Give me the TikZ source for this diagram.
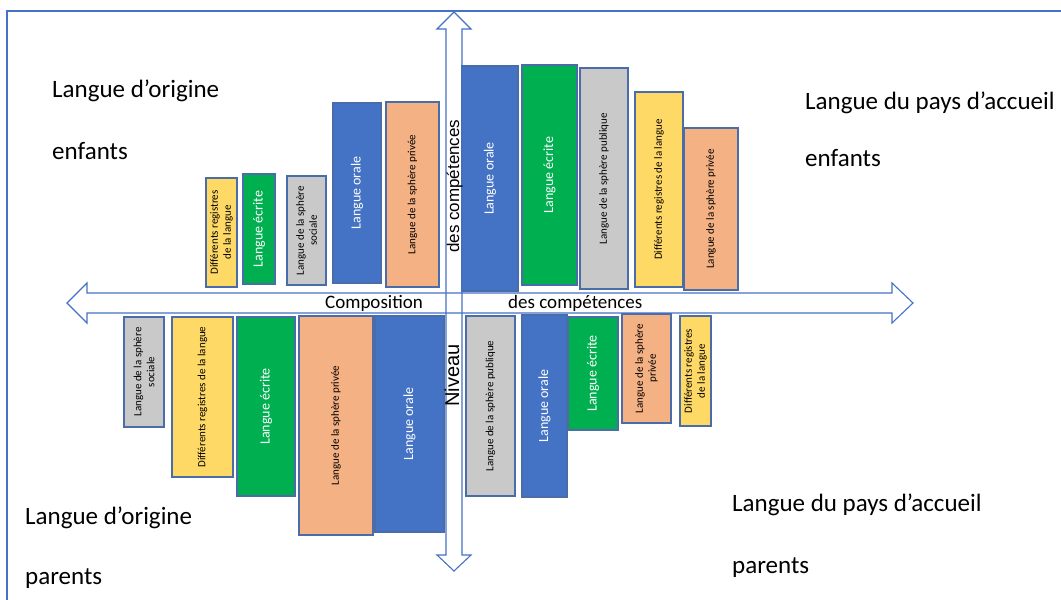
\documentclass[tikz,border=0pt]{standalone}
\usepackage{fontspec}
\setmainfont{Carlito}
\newfontfamily\axefont{Liberation Sans}
\usetikzlibrary{positioning}

\definecolor{cadre}{HTML}{4472C4}
\definecolor{barline}{HTML}{4A6CA8}
\definecolor{bleu}{HTML}{4472C4}
\definecolor{vert}{HTML}{00B050}
\definecolor{gris}{HTML}{C9C9C9}
\definecolor{jaune}{HTML}{FFD966}
\definecolor{saumon}{HTML}{F4B183}

\begin{document}
\begin{tikzpicture}[x=1pt, y=-1pt,
  bar/.style={draw=barline, line width=1.1pt, rotate=90, inner sep=1pt, align=center, text=black, font=\fontsize{11}{13}\selectfont},
  dims/.style 2 args={minimum height=#1pt, minimum width=#2pt},
  orale/.style={bar, fill=bleu, text=white, font=\fontsize{14}{16}\selectfont},
  ecrite/.style={bar, fill=vert, text=white, font=\fontsize{14}{16}\selectfont},
  sphere/.style={bar, fill=gris},
  registres/.style={bar, fill=jaune},
  privee/.style={bar, fill=saumon},
  groupe/.style={anchor=base west, inner sep=0pt, font=\fontsize{25}{30}\selectfont},
  axe/.style={draw=cadre, line width=1.1pt},
  axetexte/.style={inner sep=0pt, anchor=base west, font=\fontsize{19}{22}\selectfont},
  axevert/.style={inner sep=0pt, anchor=base west, rotate=90, font=\axefont\fontsize{#1}{22}\selectfont}]
  \useasboundingbox (0,0) rectangle (1061,600);
  \draw[cadre, line width=2pt] (7,600) -- (7,11) -- (1061,11);

  \node[registres, dims={31}{109}] (eo_registres) at (221.5,232.5) {Différents registres\\de la langue};
  \node[ecrite, dims={32}{110}] (eo_ecrite) at (259,229) {Langue écrite};
  \node[sphere, dims={39}{109}] (eo_sociale) at (306.5,230.5) {Langue de la sphère\\sociale};
  \node[orale, dims={48}{180}] (eo_orale) at (357,193) {Langue orale};
  \node[privee, dims={53}{185}] (eo_privee) at (412.5,194.5) {Langue de la sphère privée};

  \node[orale, dims={56}{225}] (ea_orale) at (490,178.5) {Langue orale};
  \node[ecrite, dims={55}{220}] (ea_ecrite) at (549.5,175) {Langue écrite};
  \node[sphere, dims={48}{221}] (ea_publique) at (604,178.5) {Langue de la sphère publique};
  \node[registres, dims={48}{195}] (ea_registres) at (659,189.5) {Différents registres de la langue};
  \node[privee, dims={54}{162}] (ea_privee) at (711,209) {Langue de la sphère privée};

  \node[sphere, dims={40}{110}] (po_sociale) at (144,372) {Langue de la sphère\\sociale};
  \node[registres, dims={61}{160}] (po_registres) at (202.5,397) {Différents registres de la langue};
  \node[ecrite, dims={58}{179}] (po_ecrite) at (266,406.5) {Langue écrite};
  \node[privee, dims={74}{219}] (po_privee) at (336,425.5) {Langue de la sphère privée};
  \node[orale, dims={69}{216}] (po_orale) at (409.5,424) {Langue orale};

  \node[sphere, dims={49}{180}] (pa_publique) at (490.5,406) {Langue de la sphère publique};
  \node[orale, dims={45}{182}] (pa_orale) at (544.5,406) {Langue orale};
  \node[ecrite, dims={50}{113}] (pa_ecrite) at (593,373.5) {Langue écrite};
  \node[privee, dims={49}{109}] (pa_privee) at (646.5,368.5) {Langue de la sphère\\privée};
  \node[registres, dims={31}{110}] (pa_registres) at (695.5,371) {Différents registres\\de la langue};

  \draw[axe] (67,303) -- (87,283) -- (87,293) -- (892,293) -- (892,283) -- (913,303)
    -- (892,323) -- (892,313) -- (87,313) -- (87,323) -- cycle;
  \draw[axe] (454,12) -- (471,29) -- (462,29) -- (462,555) -- (471,555) -- (454,571)
    -- (437,555) -- (446,555) -- (446,29) -- (437,29) -- cycle;

  \node[axetexte] (composition) at (325,308) {Composition};
  \node[axetexte] (competences) at (508,308) {des compétences};
  \node[axevert=17] (niv_competences) at (459,253) {des compétences};
  \node[axevert=20] (niveau) at (459,407) {Niveau};

  \node[groupe] (orig_enf) at (52,97) {Langue d’origine};
  \node[groupe] (orig_enf2) [below=62pt of orig_enf.base west, anchor=base west] {enfants};
  \node[groupe] (acc_enf) at (805,109) {Langue du pays d’accueil};
  \node[groupe] (acc_enf2) [below=57pt of acc_enf.base west, anchor=base west] {enfants};
  \node[groupe] (orig_par) at (25,524) {Langue d’origine};
  \node[groupe] (orig_par2) [below=60pt of orig_par.base west, anchor=base west] {parents};
  \node[groupe] (acc_par) at (732,511) {Langue du pays d’accueil};
  \node[groupe] (acc_par2) [below=62pt of acc_par.base west, anchor=base west] {parents};
\end{tikzpicture}
\end{document}
